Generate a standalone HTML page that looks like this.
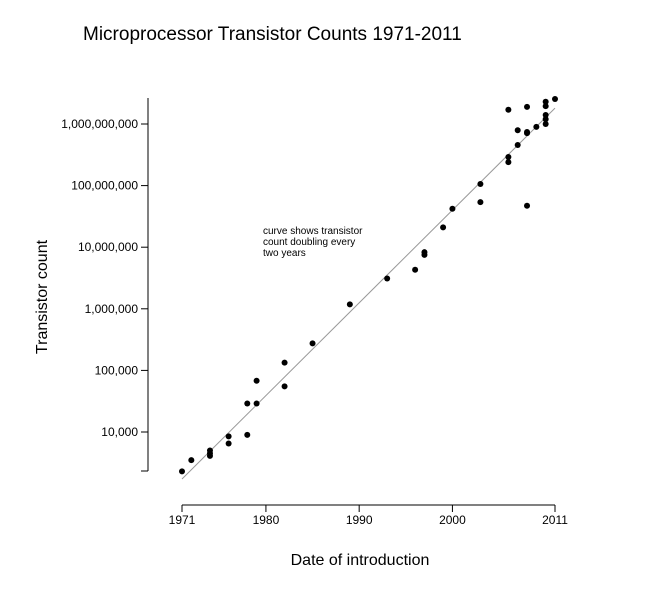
<!DOCTYPE html>
<html><head><meta charset="utf-8"><style>
body{margin:0;background:#fff}
svg{display:block;font-family:"Liberation Sans",sans-serif}
</style></head><body>
<svg id="chart" width="667" height="599">
<text x="83" y="40" font-size="19">Microprocessor Transistor Counts 1971-2011</text>
<text transform="translate(47,297) rotate(-90)" text-anchor="middle" font-size="16">Transistor count</text>
<text x="360" y="565" text-anchor="middle" font-size="16">Date of introduction</text>
<text font-size="10"><tspan x="263" y="234">curve shows transistor</tspan><tspan x="263" y="245">count doubling every</tspan><tspan x="263" y="256">two years</tspan></text>
<line x1="148" y1="98" x2="148" y2="471" stroke="#000"/>
<line x1="182" y1="505" x2="555" y2="505" stroke="#000"/>
<g id="ticks"></g><g id="marks"></g>
</svg>
<script>
const years=[1971,1972,1974,1974,1974,1976,1976,1978,1978,1979,1979,1982,1982,1985,1989,1993,1996,1997,1997,1999,2000,2003,2003,2006,2006,2006,2007,2007,2008,2008,2008,2008,2009,2010,2010,2010,2010,2010,2011];
const counts=[2300,3500,4100,4500,5000,8500,6500,29000,9000,68000,29000,134000,55000,275000,1180000,3100000,4300000,8300000,7500000,21000000,42000000,106000000,54000000,291000000,241000000,1700000000,456000000,790000000,1900000000,740000000,710000000,47000000,900000000,2300000000,1950000000,1400000000,1200000000,1000000000,2550000000];
const yTicks=[10000,100000,1000000,10000000,100000000,1000000000];
const yTickLabels=["10,000","100,000","1,000,000","10,000,000","100,000,000","1,000,000,000"];
const xTicks=[1971,1980,1990,2000,2011];
const trendStart=[1971,1726];
const trendEnd=[2011,1726*Math.pow(2,20)];
const X=y=>182+(y-1971)*9.325;
const Y=v=>124-(Math.log10(v)-9)*61.6;
const NS="http://www.w3.org/2000/svg";
const tk=document.getElementById('ticks'),mk=document.getElementById('marks');
function mkEl(t,a,p){const e=document.createElementNS(NS,t);for(const k in a)e.setAttribute(k,a[k]);p.appendChild(e);return e;}
yTicks.forEach((v,i)=>{
 const l=mkEl('line',{x1:141,x2:148,y1:Y(v),y2:Y(v),stroke:'#000'},tk);
 
 
 const t=mkEl('text',{x:138,y:Y(v)+4,'text-anchor':'end','font-size':12},tk);t.textContent=yTickLabels[i];
 
 
});
mkEl('line',{x1:141,x2:148,y1:471,y2:471,stroke:'#000'},tk);
xTicks.forEach(v=>{
 const l=mkEl('line',{x1:X(v),x2:X(v),y1:505,y2:512,stroke:'#000'},tk);
 
 
 const t=mkEl('text',{x:X(v),y:524,'text-anchor':'middle','font-size':12},tk);t.textContent=v;
 
 
});
const tl=mkEl('line',{x1:X(trendStart[0]),y1:Y(trendStart[1]),x2:X(trendEnd[0]),y2:Y(trendEnd[1]),stroke:'#999','stroke-width':1},mk);


years.forEach((yr,i)=>{
 const c=mkEl('circle',{cx:X(yr),cy:Y(counts[i]),r:3,fill:'#000'},mk);
 
 
});
</script>
</body></html>
